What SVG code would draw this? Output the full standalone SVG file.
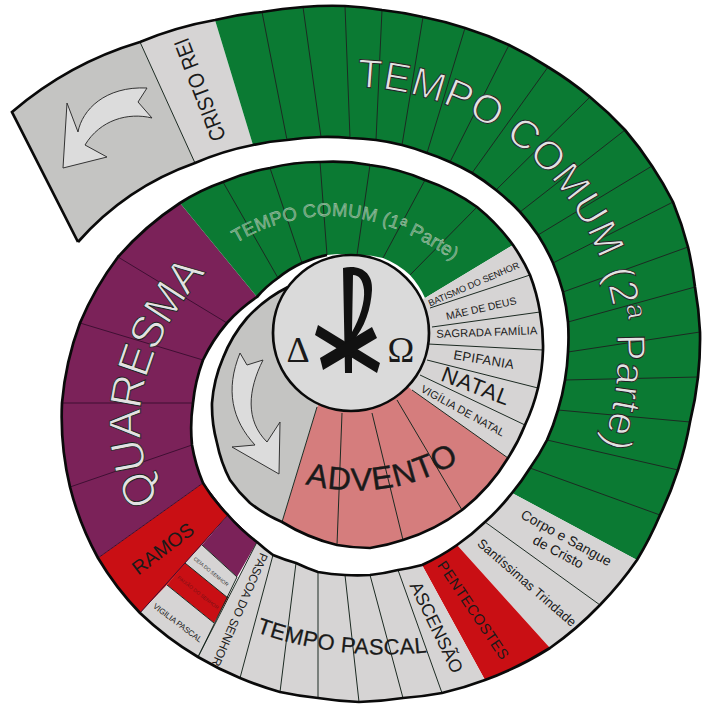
<svg xmlns="http://www.w3.org/2000/svg" width="705" height="707" viewBox="0 0 705 707">
<style>
text{font-family:"Liberation Sans",Arial,sans-serif;fill:#1a1a1a;text-anchor:middle}
.g{fill:#0b7a33}.c{fill:#d6d4d4}.d{fill:#c4c4c2}.r{fill:#c90f14}.p{fill:#7b2259}.k{fill:#d57d7d}
.div{stroke:#1c2a22;stroke-width:1;fill:none}
.out{fill:#e2e2e2;stroke:#222;stroke-width:.9}
.arr{fill:#dcdcdc;stroke:#333;stroke-width:1}
.s{text-anchor:start}
</style>
<defs>
<path id="p2" d="M357,87 A268,268 0 0 1 600,450 A268,268 0 0 1 570,510"/>
<path id="p1" d="M236,243 Q344,180 458,264"/>
<path id="pq" d="M160,500 Q102,389 215,262"/>
<path id="pp" d="M256,632 Q340,662 430,652"/>
<path id="pa" d="M305,484 Q390,505 465,458"/>
</defs>
<rect width="705" height="707" fill="#fff"/>

<g id="ciclo-cinza"><path class="d" d="M12,112 A350,350 0 0 1 140,42 L195,163 A280,280 0 0 0 78,242 Z"/>
<path class="arr" d="M147,88 L138,102 L152,118 C128,112 100,120 85,145 L107,157 L63,168 L67,103 L78,132 C82,110 105,86 147,88 Z"/></g>

<g id="cristo-rei"><path class="c" d="M140,42 A350,350 0 0 1 215,20 L253,145 A280,280 0 0 0 195,163 Z"/></g>

<g id="tempo-comum-2"><path class="g" d="M215,20 A350,350 0 0 1 262,12 A350,350 0 0 1 303,7 A350,350 0 0 1 345,6 A350,350 0 0 1 382,10 A350,350 0 0 1 423,17 A350,350 0 0 1 465,28 A350,350 0 0 1 509,45 A350,350 0 0 1 548,67 A350,350 0 0 1 590,97 A350,350 0 0 1 625,130 A350,350 0 0 1 652,166 A350,350 0 0 1 673,202 A350,350 0 0 1 688,247 A350,350 0 0 1 695,287 A350,350 0 0 1 700,332 A350,350 0 0 1 698,377 A350,350 0 0 1 690,422 A350,350 0 0 1 678,470 A350,350 0 0 1 660,515 A350,350 0 0 1 637,560 L512,493 A220,220 0 0 0 530,468 A220,220 0 0 0 547,440 A220,220 0 0 0 558,410 A220,220 0 0 0 565,380 A220,220 0 0 0 568,352 A220,220 0 0 0 568,322 A220,220 0 0 0 563,292 A220,220 0 0 0 553,263 A220,220 0 0 0 538,235 A220,220 0 0 0 520,212 A220,220 0 0 0 496,190 A220,220 0 0 0 472,173 A220,220 0 0 0 450,162 A220,220 0 0 0 427,153 A220,220 0 0 0 402,145 A220,220 0 0 0 376,140 A240,240 0 0 0 350,138 A240,240 0 0 0 321,137 A260,260 0 0 0 287,140 A260,260 0 0 0 253,145 Z"/></g>

<g id="corpo-sangue"><path class="c" d="M512,493 L637,560 A340,340 0 0 1 600,605 L485,522 A220,220 0 0 0 512,493 Z"/></g>
<g id="santissima"><path class="c" d="M485,522 L600,605 A340,340 0 0 1 550,648 L457,545 A220,220 0 0 0 485,522 Z"/></g>
<g id="pentecostes"><path class="r" d="M457,545 L550,648 A340,340 0 0 1 485,680 L422,565 A220,220 0 0 0 457,545 Z"/></g>
<g id="ascensao"><path class="c" d="M422,565 L485,680 A340,340 0 0 1 442,693 L398,570 A220,220 0 0 0 422,565 Z"/></g>
<g id="tempo-pascal"><path class="c" d="M398,570 L442,693 A340,340 0 0 1 403,698 A340,340 0 0 1 359,702 A340,340 0 0 1 318,698 A340,340 0 0 1 280,692 A340,340 0 0 1 240,678 L273,555 A200,200 0 0 0 296,563 A200,200 0 0 0 318,572 A200,200 0 0 0 345,575 A200,200 0 0 0 370,575 A200,200 0 0 0 398,570 Z"/></g>
<g id="pascoa"><path class="c" d="M257,542 L198,657 A340,340 0 0 1 240,678 L273,555 A200,200 0 0 1 257,542 Z"/></g>

<g id="quaresma"><path class="p" d="M98,558 A300,300 0 0 1 70,487 A300,300 0 0 1 62,403 A300,300 0 0 1 80,323 A300,300 0 0 1 118,257 A300,300 0 0 1 180,203 L257,297 A170,170 0 0 0 227,323 A170,170 0 0 0 203,360 A170,170 0 0 0 193,403 A170,170 0 0 0 192,445 A170,170 0 0 0 203,483 Z"/></g>
<g id="ramos"><path class="r" d="M98,558 L203,483 L228,515 L167,585 L140,613 A300,300 0 0 1 98,558 Z"/></g>
<g id="quaresma-fim"><path class="p" d="M228,515 L257,542 L237,577 L202,545 Z"/></g>
<g id="ceia"><path class="c" d="M198,549 L202,545 L237,577 L228,598 L185,563 Z"/></g>
<g id="paixao"><path class="r" d="M185,563 L228,598 L214,623 L167,585 Z"/></g>
<g id="vigilia-pascal"><path class="c" d="M167,585 L214,623 L198,657 A320,320 0 0 1 140,613 Z"/></g>

<g id="tempo-comum-1"><path class="g" d="M180,203 A200,200 0 0 1 223,182 A200,200 0 0 1 270,168 A200,200 0 0 1 320,162 A200,200 0 0 1 370,165 A200,200 0 0 1 425,180 A200,200 0 0 1 477,207 A200,200 0 0 1 513,245 L425,298 A85,85 0 0 0 410,275 A85,85 0 0 0 383,258 A85,85 0 0 0 357,255 A110,110 0 0 0 327,255 A110,110 0 0 0 302,263 A110,110 0 0 0 278,278 A110,110 0 0 0 257,297 Z"/></g>
<g id="natal-cinza"><path class="c" d="M425,298 L513,245 A190,190 0 0 1 530,275 A190,190 0 0 1 540,312 A190,190 0 0 1 543,350 A190,190 0 0 1 538,388 A190,190 0 0 1 525,425 A190,190 0 0 1 508,458 L412,390 L351,333 Z"/></g>
<g id="advento"><path class="k" d="M412,390 L508,458 A190,190 0 0 1 462,510 A190,190 0 0 1 403,540 A190,190 0 0 1 370,548 A190,190 0 0 1 337,545 A190,190 0 0 1 282,522 L317,407 L351,333 Z"/></g>
<g id="crescente"><path class="d" d="M288,287 A140,140 0 0 0 247,318 A140,140 0 0 0 223,358 A140,140 0 0 0 212,403 A140,140 0 0 0 217,443 A140,140 0 0 0 230,480 A140,140 0 0 0 250,503 A140,140 0 0 0 282,522 L317,407 L351,333 Z"/>
<path class="arr" d="M240,353 L247,365 L263,360 C248,390 245,420 267,442 L280,422 L279,474 L232,447 L255,445 C232,420 225,390 240,353 Z"/></g>

<g id="connectors" class="div">
<path d="M140,42 L195,163"/>
<path d="M262,12 L287,140 M303,7 L321,137 M345,6 L350,138 M382,10 L376,140 M423,17 L402,145 M465,28 L427,153 M509,45 L450,162 M548,67 L472,173 M590,97 L496,190 M625,130 L520,212 M652,166 L538,235 M673,202 L553,263 M688,247 L563,292 M695,287 L568,322 M700,332 L568,352 M698,377 L565,380 M690,422 L558,410 M678,470 L547,440 M660,515 L530,468"/>
<path d="M485,522 L600,605 M398,570 L442,693 M370,575 L403,698 M345,575 L359,702 M318,572 L318,698 M296,563 L280,692 M273,555 L240,678 M257,542 L198,657"/>
<path stroke="#3f0f33" d="M118,257 L227,323 M80,323 L203,360 M62,403 L193,403 M70,487 L192,445 M98,558 L203,483 M203,483 L228,515 M140,613 L228,515 M228,515 L257,542"/>
<path d="M202,545 L237,577 M185,563 L228,598 M167,585 L214,623 M237,577 L198,657"/>
<path d="M223,182 L278,278 M270,168 L302,263 M320,162 L327,255 M370,165 L357,255 M425,180 L383,258 M477,207 L410,275"/>
<path d="M430,308 L530,275 M432,327 L540,312 M428,344 L543,350 M427,360 L538,388 M420,375 L525,425"/>
<path d="M412,390 L508,458 M342,413 L337,545 M372,413 L403,540 M397,400 L462,510"/>
<path d="M317,407 L282,522"/>
</g>

<g id="contorno" fill="none" stroke="#0a0a0a" stroke-width="2.7" stroke-linejoin="miter">
<path d="M78,242 L12,112 A350,350 0 0 1 140,42 A350,350 0 0 1 215,20 A350,350 0 0 1 262,12 A350,350 0 0 1 303,7 A350,350 0 0 1 345,6 A350,350 0 0 1 382,10 A350,350 0 0 1 423,17 A350,350 0 0 1 465,28 A350,350 0 0 1 509,45 A350,350 0 0 1 548,67 A350,350 0 0 1 590,97 A350,350 0 0 1 625,130 A350,350 0 0 1 652,166 A350,350 0 0 1 673,202 A350,350 0 0 1 688,247 A350,350 0 0 1 695,287 A350,350 0 0 1 700,332 A350,350 0 0 1 698,377 A350,350 0 0 1 690,422 A350,350 0 0 1 678,470 A350,350 0 0 1 660,515 A350,350 0 0 1 637,560 A340,340 0 0 1 600,605 A340,340 0 0 1 550,648 A340,340 0 0 1 485,680 A340,340 0 0 1 442,693 A340,340 0 0 1 403,698 A340,340 0 0 1 359,702 A340,340 0 0 1 318,698 A340,340 0 0 1 280,692 A340,340 0 0 1 240,678 A340,340 0 0 1 198,657 A320,320 0 0 1 140,613 A300,300 0 0 1 98,558 A300,300 0 0 1 70,487 A300,300 0 0 1 62,403 A300,300 0 0 1 80,323 A300,300 0 0 1 118,257 A300,300 0 0 1 180,203 A200,200 0 0 1 223,182 A200,200 0 0 1 270,168 A200,200 0 0 1 320,162 A200,200 0 0 1 370,165 A200,200 0 0 1 425,180 A200,200 0 0 1 477,207 A200,200 0 0 1 513,245 A190,190 0 0 1 530,275 A190,190 0 0 1 540,312 A190,190 0 0 1 543,350 A190,190 0 0 1 538,388 A190,190 0 0 1 525,425 A190,190 0 0 1 508,458 A190,190 0 0 1 462,510 A190,190 0 0 1 403,540 A190,190 0 0 1 370,548 A190,190 0 0 1 337,545 A190,190 0 0 1 282,522 A140,140 0 0 1 250,503 A140,140 0 0 1 230,480 A140,140 0 0 1 217,443 A140,140 0 0 1 212,403 A140,140 0 0 1 223,358 A140,140 0 0 1 247,318 A140,140 0 0 1 288,287"/>
<path d="M78,242 A280,280 0 0 1 195,163 A280,280 0 0 1 253,145 A260,260 0 0 1 287,140 A260,260 0 0 1 321,137 A240,240 0 0 1 350,138 A240,240 0 0 1 376,140 A220,220 0 0 1 402,145 A220,220 0 0 1 427,153 A220,220 0 0 1 450,162 A220,220 0 0 1 472,173 A220,220 0 0 1 496,190 A220,220 0 0 1 520,212 A220,220 0 0 1 538,235 A220,220 0 0 1 553,263 A220,220 0 0 1 563,292 A220,220 0 0 1 568,322 A220,220 0 0 1 568,352 A220,220 0 0 1 565,380 A220,220 0 0 1 558,410 A220,220 0 0 1 547,440 A220,220 0 0 1 530,468 A220,220 0 0 1 512,493 A220,220 0 0 1 485,522 A220,220 0 0 1 457,545 A220,220 0 0 1 422,565 A220,220 0 0 1 398,570 A200,200 0 0 1 370,575 A200,200 0 0 1 345,575 A200,200 0 0 1 318,572 A200,200 0 0 1 296,563 A200,200 0 0 1 273,555 A200,200 0 0 1 257,542 A170,170 0 0 1 228,515 A170,170 0 0 1 203,483 A170,170 0 0 1 192,445 A170,170 0 0 1 193,403 A170,170 0 0 1 203,360 A170,170 0 0 1 227,323 A170,170 0 0 1 257,297 A110,110 0 0 1 278,278 A110,110 0 0 1 302,263 A110,110 0 0 1 327,255"/>
</g>

<g id="centro">
<circle cx="351" cy="333" r="78" fill="#dadada" stroke="#0a0a0a" stroke-width="2.7"/>
<g fill="#111">
<path d="M343,268 C362,264 373,274 372,290 C371,308 365,328 352,342 L352,373 L345,373 Z M353,275 L352,332 C360,318 365,302 364,290 C363,280 359,275 353,275 Z" fill-rule="evenodd"/>
<path d="M318,325 L315,335 L377,373 L380,363 Z"/>
<path d="M372,327 L377,338 L323,370 L320,358 Z"/>
</g>
<text x="298" y="362" font-size="36" style="font-family:'Liberation Serif',serif">Δ</text>
<text x="401" y="362" font-size="36" style="font-family:'Liberation Serif',serif">Ω</text>
</g>

<g id="rotulos">
<text transform="translate(207,87) rotate(-111)" font-size="22" textLength="108" lengthAdjust="spacingAndGlyphs">CRISTO REI</text>
<text class="out s" font-size="40"><textPath href="#p2" textLength="505" lengthAdjust="spacing">TEMPO COMUM (2ª Parte)</textPath></text>
<text class="out s" font-size="18.5" style="stroke-width:.4;fill:#5f9f72;stroke:#b8ccba"><textPath href="#p1" textLength="232">TEMPO COMUM (1ª Parte)</textPath></text>
<text class="out s" font-size="45"><textPath href="#pq" textLength="248">QUARESMA</textPath></text>
<text class="s" font-size="22" style="stroke:#1a1a1a;stroke-width:.25"><textPath href="#pp" textLength="174">TEMPO PASCAL</textPath></text>
<text class="s" font-size="32" style="stroke:#1a1a1a;stroke-width:.4"><textPath href="#pa" textLength="160">ADVENTO</textPath></text>
<text transform="translate(475,287) rotate(-23.4)" font-size="9.2" textLength="98">BATISMO DO SENHOR</text>
<text transform="translate(482,312) rotate(-13)" font-size="10.5" textLength="72">MÃE DE DEUS</text>
<text transform="translate(487,336) rotate(-2)" font-size="11.2" textLength="101">SAGRADA FAMÍLIA</text>
<text transform="translate(483,364) rotate(9.5)" font-size="13" textLength="61">EPIFANIA</text>
<text transform="translate(473,393) rotate(21)" font-size="22" textLength="71">NATAL</text>
<text transform="translate(461,414) rotate(29)" font-size="10.9" textLength="94">VIGÍLIA DE NATAL</text>
<text transform="translate(564,542) rotate(29)" font-size="13.8" textLength="101">Corpo e Sangue</text>
<text transform="translate(556,556) rotate(28)" font-size="13.8" textLength="55">de Cristo</text>
<text transform="translate(524,586) rotate(41)" font-size="13" textLength="126">Santíssimas Trindade</text>
<text transform="translate(469,613) rotate(56)" font-size="14.8" textLength="115">PENTECOSTES</text>
<text transform="translate(431,630) rotate(64)" font-size="18" textLength="99">ASCENSÃO</text>
<text transform="translate(236,608) rotate(113.6)" font-size="12" textLength="122">PASCOA DO SENHOR</text>
<text transform="translate(176,625) rotate(37)" font-size="8" textLength="59">VIGILIA PASCAL</text>
<text transform="translate(167,554) rotate(-37)" font-size="19.6" textLength="72">RAMOS</text>
<text transform="translate(210,573) rotate(39)" font-size="5" textLength="43" style="fill:#333">CEIA DO SENHOR</text>
<text transform="translate(197,594) rotate(38)" font-size="5" textLength="51" style="fill:#7a1015">PAIXÃO DO SENHOR</text>
</g>
</svg>
